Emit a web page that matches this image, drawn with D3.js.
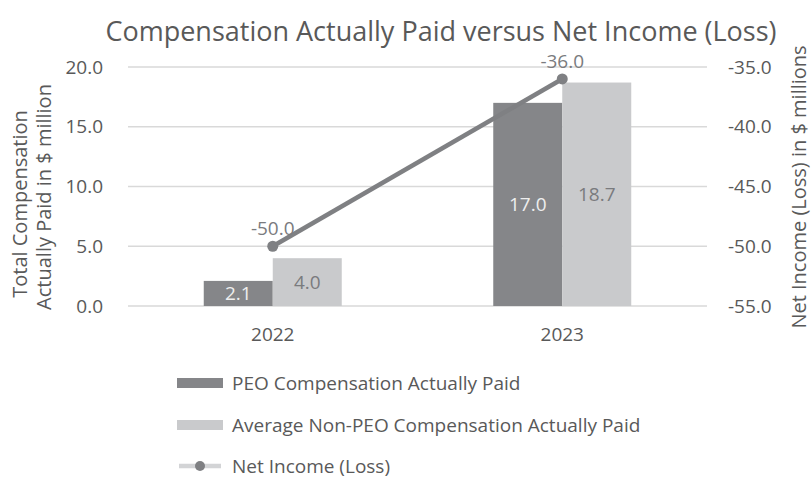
<!DOCTYPE html>
<html>
<head>
<meta charset="utf-8">
<script src="https://cdn.jsdelivr.net/npm/d3@7"></script>
<style>
  body { margin: 0; background: #fff; }
  text { font-family: "Open Sans", sans-serif; fill: #595959; }
</style>
</head>
<body>
<div id="chart"></div>
<script>
// chart data
const years = ["2022", "2023"];
const peoPaid = [2.1, 17.0];
const nonPeoPaid = [4.0, 18.7];
const netIncome = [-50.0, -36.0];
const leftTicks = [0, 5, 10, 15, 20];
const rightTicks = [-55, -50, -45, -40, -35];
const seriesNames = ["PEO Compensation Actually Paid", "Average Non-PEO Compensation Actually Paid", "Net Income (Loss)"];

const W = 812, H = 479;
const margin = {top: 67, right: 105, bottom: 173, left: 128};
const width = W - margin.left - margin.right,
      height = H - margin.top - margin.bottom;

// plain hyphen for negatives, like the original
const fmt = d => d.toFixed(1);

const svg = d3.select("#chart").append("svg")
    .attr("width", W).attr("height", H);

// title
svg.append("text")
    .attr("x", 441).attr("y", 41)
    .attr("text-anchor", "middle")
    .style("font-size", "27px")
    .text("Compensation Actually Paid versus Net Income (Loss)");

const g = svg.append("g").attr("transform", `translate(${margin.left},${margin.top})`);

const x = d3.scaleBand().domain(years).range([0, width]);
const yL = d3.scaleLinear().domain([0, 20]).range([height, 0]);
const yR = d3.scaleLinear().domain([-55, -35]).range([height, 0]);
const barW = 69;

// gridlines
g.selectAll(".grid").data(leftTicks).enter().append("line")
    .attr("x1", 0).attr("x2", width)
    .attr("y1", d => yL(d)).attr("y2", d => yL(d))
    .attr("stroke", "#d9d9d9").attr("stroke-width", 1.5);

// left axis
const leftAxis = g.append("g").call(d3.axisLeft(yL).tickValues(leftTicks).tickFormat(fmt).tickSize(0).tickPadding(25));
leftAxis.select(".domain").remove();
leftAxis.selectAll("text").style("font-size", "19px").attr("fill", "#595959").style("font-family", "Open Sans");

// right axis
const rightAxis = g.append("g").attr("transform", `translate(${width},0)`)
    .call(d3.axisRight(yR).tickValues(rightTicks).tickFormat(fmt).tickSize(0).tickPadding(21));
rightAxis.select(".domain").remove();
rightAxis.selectAll("text").style("font-size", "19px").attr("fill", "#595959").style("font-family", "Open Sans");

// bottom axis labels
const bottomAxis = g.append("g").attr("transform", `translate(0,${height})`)
    .call(d3.axisBottom(x).tickSize(0).tickPadding(22));
bottomAxis.select(".domain").remove();
bottomAxis.selectAll("text").style("font-size", "19px").attr("fill", "#595959").style("font-family", "Open Sans");

// bars
g.selectAll(".peo").data(years).enter().append("rect")
    .attr("x", d => x(d) + x.bandwidth() / 2 - barW)
    .attr("y", (d, i) => yL(peoPaid[i]))
    .attr("width", barW)
    .attr("height", (d, i) => yL(0) - yL(peoPaid[i]))
    .attr("fill", "#858689");
g.selectAll(".nonpeo").data(years).enter().append("rect")
    .attr("x", d => x(d) + x.bandwidth() / 2)
    .attr("y", (d, i) => yL(nonPeoPaid[i]))
    .attr("width", barW)
    .attr("height", (d, i) => yL(0) - yL(nonPeoPaid[i]))
    .attr("fill", "#c9cacc");

// bar labels
g.selectAll(".peoLbl").data(years).enter().append("text")
    .attr("x", d => x(d) + x.bandwidth() / 2 - barW / 2)
    .attr("y", (d, i) => (yL(peoPaid[i]) + yL(0)) / 2 + 7)
    .attr("text-anchor", "middle").style("font-size", "19px").style("fill", "#eeeeee")
    .text((d, i) => fmt(peoPaid[i]));
g.selectAll(".nonpeoLbl").data(years).enter().append("text")
    .attr("x", d => x(d) + x.bandwidth() / 2 + barW / 2)
    .attr("y", (d, i) => (yL(nonPeoPaid[i]) + yL(0)) / 2 + 7)
    .attr("text-anchor", "middle").style("font-size", "19px").style("fill", "#7a7b7e")
    .text((d, i) => fmt(nonPeoPaid[i]));

// net income line
const line = d3.line()
    .x((d, i) => x(years[i]) + x.bandwidth() / 2)
    .y(d => yR(d));
g.append("path").datum(netIncome)
    .attr("fill", "none").attr("stroke", "#7f8083").attr("stroke-width", 4.5)
    .attr("d", line);
g.selectAll(".pt").data(netIncome).enter().append("circle")
    .attr("cx", (d, i) => x(years[i]) + x.bandwidth() / 2)
    .attr("cy", d => yR(d))
    .attr("r", 5.5).attr("fill", "#7f8083");
g.selectAll(".ptLbl").data(netIncome).enter().append("text")
    .attr("x", (d, i) => x(years[i]) + x.bandwidth() / 2)
    .attr("y", d => yR(d) - 11)
    .attr("text-anchor", "middle").style("font-size", "19px").style("fill", "#7a7b7e")
    .text(d => fmt(d));

// axis titles
svg.append("text")
    .attr("transform", "translate(27,204) rotate(-90)")
    .attr("text-anchor", "middle").style("font-size", "20px")
    .text("Total Compensation");
svg.append("text")
    .attr("transform", "translate(51,197) rotate(-90)")
    .attr("text-anchor", "middle").style("font-size", "20px")
    .text("Actually Paid in $ million");
svg.append("text")
    .attr("transform", "translate(806,187) rotate(-90)")
    .attr("text-anchor", "middle").style("font-size", "20px")
    .text("Net Income (Loss) in $ millions");

// legend
const legend = svg.append("g").attr("transform", "translate(177,383)");
const legendY = [0, 42, 83];
legend.append("rect").attr("x", 0).attr("y", legendY[0] - 5).attr("width", 46).attr("height", 10).attr("fill", "#858689");
legend.append("rect").attr("x", 0).attr("y", legendY[1] - 5).attr("width", 46).attr("height", 10).attr("fill", "#c9cacc");
legend.append("line").attr("x1", 2).attr("x2", 44).attr("y1", legendY[2]).attr("y2", legendY[2])
    .attr("stroke", "#d3d4d6").attr("stroke-width", 4.5);
legend.append("circle").attr("cx", 23).attr("cy", legendY[2]).attr("r", 5).attr("fill", "#7f8083");
legend.selectAll(".lt").data(seriesNames).enter().append("text")
    .attr("x", 55).attr("y", (d, i) => legendY[i] + 7)
    .style("font-size", "19px")
    .text(d => d);
</script>
</body>
</html>
